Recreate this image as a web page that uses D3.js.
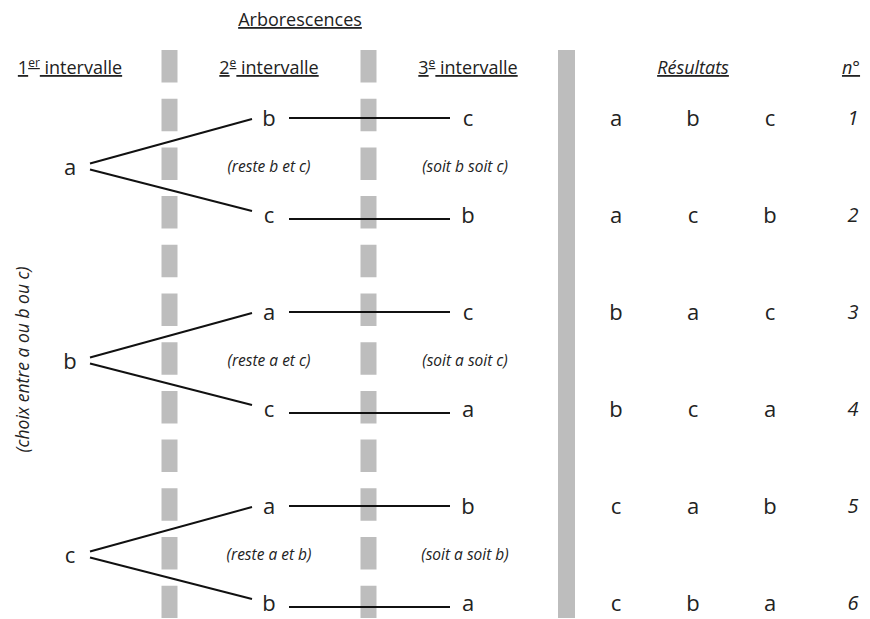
<!DOCTYPE html>
<html>
<head>
<meta charset="utf-8">
<script src="https://cdn.jsdelivr.net/npm/d3@7"></script>
<style>
  body { margin: 0; background: #fff; }
  text { font-family: "Open Sans", "Noto Sans", sans-serif; fill: #222; }
</style>
</head>
<body>
<div id="chart"></div>
<script>
// data
const firstChoices = ["a", "b", "c"];
const secondChoices = [["b", "c"], ["a", "c"], ["a", "b"]];
const thirdChoices = [["c", "b"], ["c", "a"], ["b", "a"]];
const resteLabels = ["(reste b et c)", "(reste a et c)", "(reste a et b)"];
const soitLabels = ["(soit b soit c)", "(soit a soit c)", "(soit a soit b)"];
const results = [
  ["a", "b", "c"], ["a", "c", "b"],
  ["b", "a", "c"], ["b", "c", "a"],
  ["c", "a", "b"], ["c", "b", "a"]
];
const numbers = ["1", "2", "3", "4", "5", "6"];

const width = 870, height = 619;

const svg = d3.select("#chart")
  .append("svg")
  .attr("width", width)
  .attr("height", height);

// scales
const levelX = d3.scaleLinear().domain([0, 2]).range([70, 468]);
const resX = d3.scaleLinear().domain([0, 2]).range([616, 770]);
const numX = 853;
const rowY = d3.scaleLinear().domain([0, 5]).range([117, 602]);

// gray separators
const sepY0 = 50, sepY1 = 618;
[0.5, 1.5].forEach(function (l) {
  svg.append("line")
    .attr("x1", levelX(l)).attr("x2", levelX(l))
    .attr("y1", sepY0).attr("y2", sepY1)
    .attr("stroke", "#bdbdbd")
    .attr("stroke-width", 16)
    .attr("stroke-dasharray", "32.5 16.2");
});
svg.append("rect")
  .attr("x", 558).attr("y", sepY0)
  .attr("width", 17).attr("height", sepY1 - sepY0)
  .attr("fill", "#bdbdbd");

// headers
function header(x, y, parts, italic) {
  const t = svg.append("text")
    .attr("x", x).attr("y", y)
    .attr("text-anchor", "middle")
    .style("font-size", "18px")
    .style("text-decoration", "underline")
    .style("font-style", italic ? "italic" : "normal");
  parts.forEach(function (p) {
    const s = t.append("tspan").text(p.t);
    if (p.sup) s.attr("dy", -7).style("font-size", "12px");
    if (p.down) s.attr("dy", 7);
  });
  return t;
}
header(300, 26, [{ t: "Arborescences" }]);
header(levelX(0), 74, [{ t: "1" }, { t: "er", sup: true }, { t: " intervalle", down: true }]);
header(levelX(1), 74, [{ t: "2" }, { t: "e", sup: true }, { t: " intervalle", down: true }]);
header(levelX(2), 74, [{ t: "3" }, { t: "e", sup: true }, { t: " intervalle", down: true }]);
header(resX(1), 74, [{ t: "Résultats" }], true);
header(numX - 2, 74, [{ t: "n°" }], true);

// side label
svg.append("text")
  .attr("transform", "translate(22," + (rowY(2.5)) + ") rotate(-90)")
  .attr("text-anchor", "middle")
  .attr("dominant-baseline", "central")
  .style("font-size", "17.5px")
  .style("font-style", "italic")
  .text("(choix entre a ou b ou c)");

const lineColor = "#111";
const nodeSize = "22px";

// tree
firstChoices.forEach(function (f, i) {
  const yTop = rowY(2 * i), yBot = rowY(2 * i + 1);
  const yMid = (yTop + yBot) / 2;

  svg.append("text")
    .attr("x", levelX(0)).attr("y", yMid)
    .attr("text-anchor", "middle")
    .attr("dominant-baseline", "central")
    .style("font-size", nodeSize)
    .text(f);

  // branches
  svg.append("line")
    .attr("x1", levelX(0) + 20).attr("y1", yMid - 2)
    .attr("x2", levelX(1) - 17).attr("y2", yTop + 2)
    .attr("stroke", lineColor).attr("stroke-width", 2);
  svg.append("line")
    .attr("x1", levelX(0) + 20).attr("y1", yMid + 4)
    .attr("x2", levelX(1) - 17).attr("y2", yBot - 3)
    .attr("stroke", lineColor).attr("stroke-width", 2);

  [yTop, yBot].forEach(function (y, j) {
    svg.append("text")
      .attr("x", levelX(1)).attr("y", y)
      .attr("text-anchor", "middle")
      .attr("dominant-baseline", "central")
      .style("font-size", nodeSize)
      .text(secondChoices[i][j]);
    svg.append("text")
      .attr("x", levelX(2)).attr("y", y)
      .attr("text-anchor", "middle")
      .attr("dominant-baseline", "central")
      .style("font-size", nodeSize)
      .text(thirdChoices[i][j]);
    const ly = j === 0 ? y + 1 : y + 5;
    svg.append("line")
      .attr("x1", levelX(1) + 20).attr("x2", levelX(2) - 18)
      .attr("y1", ly).attr("y2", ly)
      .attr("stroke", lineColor).attr("stroke-width", 2);
  });

  svg.append("text")
    .attr("x", levelX(1)).attr("y", yMid)
    .attr("text-anchor", "middle")
    .attr("dominant-baseline", "central")
    .style("font-size", "15.5px")
    .style("font-style", "italic")
    .text(resteLabels[i]);
  svg.append("text")
    .attr("x", levelX(2) - 3).attr("y", yMid)
    .attr("text-anchor", "middle")
    .attr("dominant-baseline", "central")
    .style("font-size", "15.5px")
    .style("font-style", "italic")
    .text(soitLabels[i]);
});

// results
results.forEach(function (r, i) {
  r.forEach(function (v, k) {
    svg.append("text")
      .attr("x", resX(k)).attr("y", rowY(i))
      .attr("text-anchor", "middle")
      .attr("dominant-baseline", "central")
      .style("font-size", nodeSize)
      .text(v);
  });
  svg.append("text")
    .attr("x", numX).attr("y", rowY(i))
    .attr("text-anchor", "middle")
    .attr("dominant-baseline", "central")
    .style("font-size", "20px")
    .style("font-style", "italic")
    .text(numbers[i]);
});
</script>
</body>
</html>
